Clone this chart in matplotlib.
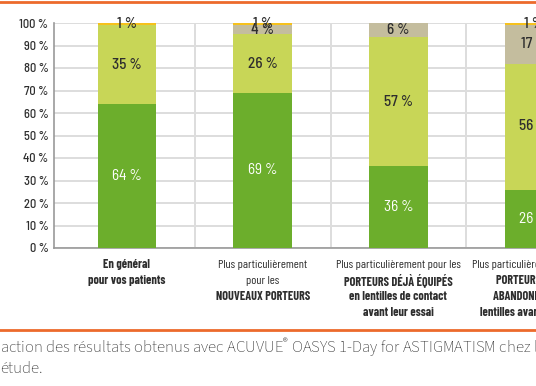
import matplotlib
matplotlib.use("Agg")
import matplotlib.pyplot as plt
from matplotlib.lines import Line2D
import numpy as np

# ----------
# Data
#
categories = ["En général\npour vos patients",
              "Plus particulièrement\npour les\nNOUVEAUX PORTEURS",
              "Plus particulièrement pour les\nPORTEURS DÉJÀ ÉQUIPÉS\nen lentilles de contact\navant leur essai",
              "Plus particulièrement pour les\nPORTEURS AYANT\nABANDONNÉ LEURS\nlentilles avant leur essai"]
bold_lines = [[0, 1], [2], [1, 2, 3], [1, 2, 3]]
very_satisfied = [64, 69, 36.4, 26]
satisfied = [35, 26, 57.2, 56]
neutral = [0, 4, 6.4, 17]
unsatisfied = [1, 1, 0, 1]
yticks = list(range(0, 101, 10))
caption = ["action des résultats obtenus avec ACUVUE$^{®}$ OASYS 1-Day for ASTIGMATISM chez l",
           "étude."]

colors = ["#6cae2c", "#c8d657", "#c4bd9e", "#f6c11c"]
orange = "#ec6a2c"
txt = "#2e2e2e"
cond = "Barlow Semi Condensed"

plt.rcParams["mathtext.fontset"] = "custom"
plt.rcParams["mathtext.rm"] = "Source Sans 3"
plt.rcParams["mathtext.default"] = "regular"

fig = plt.figure(figsize=(5.36, 3.86), dpi=100, facecolor="white")
ax = fig.add_axes([54 / 536, 138 / 386, 548 / 536, 225 / 386])

x = np.arange(len(categories))
series = [very_satisfied, satisfied, neutral, unsatisfied]
bottom = np.zeros(len(categories))
for k, vals in enumerate(series):
    vals = np.array(vals, dtype=float)
    ax.bar(x, vals, width=0.43, bottom=bottom, color=colors[k], zorder=3)
    for i, v in enumerate(vals):
        if v <= 0:
            continue
        ax.text(x[i], bottom[i] + v / 2, "%d %%" % round(v), ha="center", va="center",
                color="white" if k == 0 else txt, fontsize=11, family=cond,
                fontweight="normal" if k == 0 else "medium", zorder=4)
    bottom += vals

ax.set_xlim(-0.537, 3.5)
ax.set_ylim(0, 100)
ax.set_yticks(yticks)
ax.set_yticklabels(["%d %%" % t for t in yticks], family=cond, fontsize=9, fontweight="medium", color=txt)
ax.tick_params(axis="y", length=0, pad=4)
ax.set_xticks([])
ax.grid(axis="y", color="#dddddd", lw=1.4, zorder=0)
for b in [0.5, 1.5, 2.5]:
    ax.axvline(b, color="#dddddd", lw=1.4, zorder=0)
for s in ["top", "right"]:
    ax.spines[s].set_visible(False)
for s in ["left", "bottom"]:
    ax.spines[s].set_color("#999999")
    ax.spines[s].set_linewidth(1.2)

# category labels, line by line
for i, lab in enumerate(categories):
    for j, line in enumerate(lab.split("\n")):
        ax.text(x[i], -7.5 - j * 7, line, ha="center", va="center", fontsize=8.8, family="Barlow Condensed",
                fontweight="bold" if j in bold_lines[i] else "normal", color=txt, clip_on=False)

# orange rules
fig.add_artist(Line2D([0, 1], [1 - 2 / 386, 1 - 2 / 386], color=orange, lw=2))
fig.add_artist(Line2D([0, 1], [1 - 330 / 386, 1 - 330 / 386], color=orange, lw=2))

fig.text(0, 1 - 348 / 386, caption[0], ha="left", va="center", fontsize=12.1, family="Source Sans 3", color=txt)
fig.text(0, 1 - 369 / 386, caption[1], ha="left", va="center", fontsize=12.1, family="Source Sans 3", color=txt)

fig.savefig("out.png", dpi=100)
